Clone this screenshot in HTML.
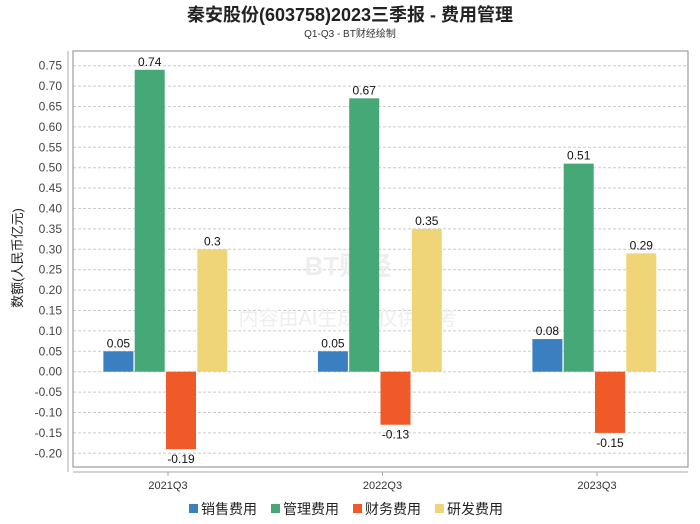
<!DOCTYPE html>
<html><head><meta charset="utf-8"><style>
body{margin:0;background:#fff;}
svg{display:block;font-family:"Liberation Sans","Noto Sans CJK SC",sans-serif;}
</style></head><body>
<svg id="chart" width="700" height="524">
<text x="350" y="21" text-anchor="middle" font-size="18" font-weight="bold" fill="#222">秦安股份(603758)2023三季报 - 费用管理</text>
<text x="350" y="37" text-anchor="middle" font-size="10" fill="#333">Q1-Q3 - BT财经绘制</text>
<text transform="translate(22,258) rotate(-90)" text-anchor="middle" font-size="13" fill="#222">数额(人民币亿元)</text>
<g id="grid"></g>
<rect x="73" y="51" width="615" height="416" fill="none" stroke="#888"/>
<line x1="68" y1="51" x2="68" y2="472" stroke="#aaa"/>
<line x1="73" y1="472" x2="688" y2="472" stroke="#aaa"/>
<text x="348" y="275" text-anchor="middle" font-size="26" font-weight="bold" fill="#eeeeee">BT财经</text>
<text x="348" y="325" text-anchor="middle" font-size="20" fill="#eeeeee">内容由AI生成，仅供参考</text>
<g id="bars"></g>
<g id="legend"></g>
</svg>
<script>
const categories=["2021Q3","2022Q3","2023Q3"];
const seriesNames=["销售费用","管理费用","财务费用","研发费用"];
const colors=["#3a7fbf","#45a876","#ef5a28","#efd577"];
const sales=[0.05,0.05,0.08];
const admin=[0.74,0.67,0.51];
const finance=[-0.19,-0.13,-0.15];
const rnd=[0.3,0.35,0.29];
const yTicks=[0.75,0.70,0.65,0.60,0.55,0.50,0.45,0.40,0.35,0.30,0.25,0.20,0.15,0.10,0.05,0.00,-0.05,-0.10,-0.15,-0.20];
const NS="http://www.w3.org/2000/svg";
function y(v){return 371.7-v*408;}
function xc(i){return 166+i*214.5;}
function mk(tag,attrs,parent){const e=document.createElementNS(NS,tag);for(const k in attrs)e.setAttribute(k,attrs[k]);parent.appendChild(e);return e;}
const grid=document.getElementById('grid');
yTicks.forEach(t=>{
  const l=mk('line',{x1:73,x2:688,y1:y(t),y2:y(t),stroke:'#ccc','stroke-dasharray':'3,2'},grid);
  
  
  const tx=mk('text',{x:62,y:y(t)+4,'text-anchor':'end','font-size':12,fill:'#444'},grid);
  tx.textContent=t.toFixed(2);
  
  
});
const bars=document.getElementById('bars');
const all=[sales,admin,finance,rnd];
const bw=30,step=31.3;
categories.forEach((c,i)=>{
  const cx=xc(i);
  all.forEach((s,j)=>{
    const v=s[i];
    const x0=cx-2*step+j*step;
    const top=Math.min(y(v),y(0)),h=Math.abs(y(v)-y(0));
    const r=mk('rect',{x:x0,y:top,width:bw,height:h,fill:colors[j]},bars);
    
    
    const lb=mk('text',{x:x0+bw/2,y:v>=0?y(v)-4:y(v)+14,'text-anchor':'middle','font-size':12,fill:'#111'},bars);
    lb.textContent=String(v);
    
    
  });
  const tk=mk('line',{x1:cx+2,x2:cx+2,y1:472,y2:476,stroke:'#aaa'},bars);
  
  
  const xl=mk('text',{x:cx+2,y:489,'text-anchor':'middle','font-size':11,fill:'#333'},bars);
  xl.textContent=c;
  
  
});
const lg=document.getElementById('legend');
seriesNames.forEach((n,j)=>{
  const lx=189+j*82;
  const r=mk('rect',{x:lx,y:504,width:9,height:9,fill:colors[j]},lg);
  
  
  const t=mk('text',{x:lx+12,y:514,'font-size':14,fill:'#222'},lg);
  t.textContent=n;
  
  
});
</script>
</body></html>
